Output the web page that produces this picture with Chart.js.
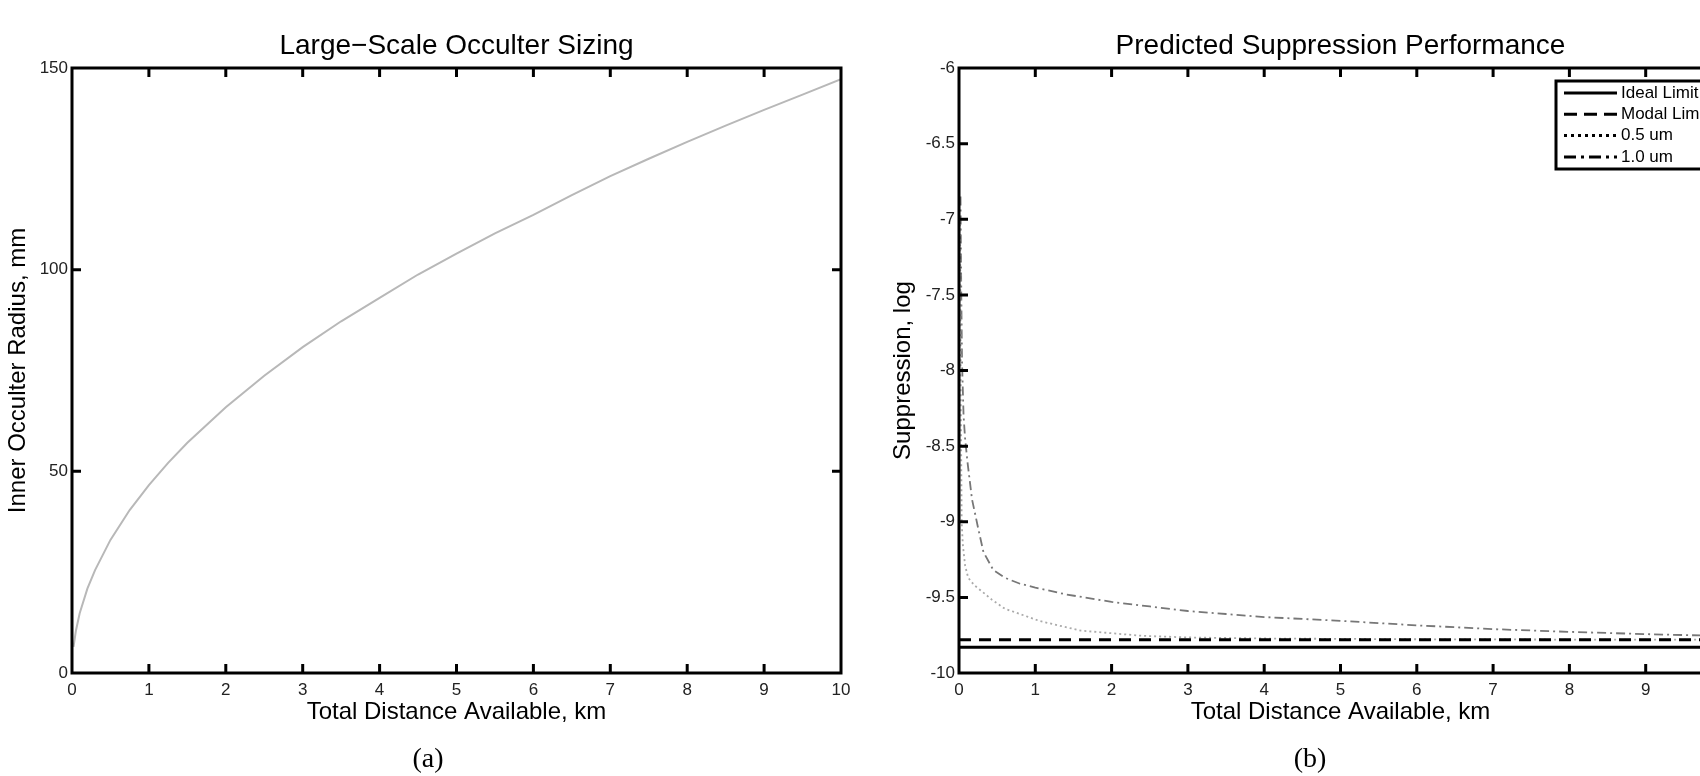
<!DOCTYPE html>
<html>
<head>
<meta charset="utf-8">
<script src="https://cdn.jsdelivr.net/npm/chart.js@4.4.0/dist/chart.umd.min.js"></script>
<style>
  html, body { margin: 0; padding: 0; background: #fff; overflow: hidden; width: 1700px; height: 776px; }
  canvas { position: absolute; top: 0; }
</style>
</head>
<body>
<canvas id="sizing" width="860" height="776" style="left:0"></canvas>
<canvas id="supp" width="880" height="776" style="left:880px"></canvas>
<script>
// tick values
const distTicks = [0, 1, 2, 3, 4, 5, 6, 7, 8, 9, 10];
const radiusTicks = [0, 50, 100, 150];
const suppTicks = [-10, -9.5, -9, -8.5, -8, -7.5, -7, -6.5, -6];

// (a) inner occulter radius vs distance
const sizingDist = [0.02, 0.05, 0.1, 0.2, 0.3, 0.5, 0.75, 1, 1.25, 1.5, 2, 2.5, 3, 3.5, 4, 4.5, 5, 5.5, 6, 6.5, 7, 7.5, 8, 8.5, 9, 9.5, 10];
const sizingRadius = [6.5, 10.4, 14.8, 20.9, 25.5, 33, 40.4, 46.6, 52.1, 57.1, 65.9, 73.7, 80.8, 87.2, 93, 98.8, 104, 109, 113.6, 118.5, 123.2, 127.5, 131.7, 135.7, 139.6, 143.4, 147.2];

// (b) suppression vs distance
const idealLimit = -9.83;
const modalLimit = -9.78;
const dist05 = [0.015, 0.025, 0.035, 0.05, 0.08, 0.12, 0.2, 0.3, 0.43, 0.6, 0.8, 1.05, 1.3, 1.6, 2, 2.4, 3, 4, 6, 8, 10];
const supp05 = [-7.0, -8.3, -9.0, -9.15, -9.29, -9.37, -9.42, -9.46, -9.515, -9.575, -9.61, -9.655, -9.685, -9.72, -9.737, -9.754, -9.765, -9.772, -9.777, -9.779, -9.78];
const dist10 = [0.02, 0.03, 0.04, 0.06, 0.08, 0.11, 0.17, 0.25, 0.32, 0.45, 0.6, 0.8, 1, 1.4, 2, 2.5, 3, 3.5, 4, 5, 6, 7, 8, 9, 10];
const supp10 = [-6.85, -7.5, -7.95, -8.3, -8.45, -8.6, -8.85, -9.04, -9.2, -9.32, -9.37, -9.41, -9.435, -9.48, -9.53, -9.56, -9.59, -9.61, -9.63, -9.655, -9.685, -9.71, -9.728, -9.743, -9.755];

const SANS = '"Liberation Sans", Arial, sans-serif';
const tickFont = { family: SANS, size: 17 };

function pts(xs, ys) {
    return xs.map((x, i) => ({ x: x, y: ys[i] }));
}

// box round the plot, inward ticks on all four sides, texts and legend
const frame = {
    id: 'frame',
    afterDatasetsDraw(chart, args, opts) {
        const { ctx, chartArea: a, scales } = chart;
        ctx.save();
        ctx.strokeStyle = '#000';
        ctx.lineWidth = 3;
        ctx.strokeRect(a.left, a.top, a.right - a.left, a.bottom - a.top);
        ctx.beginPath();
        scales.x.ticks.forEach(t => {
            const px = scales.x.getPixelForValue(t.value);
            if (px < a.left + 3 || px > a.right - 3) return;
            ctx.moveTo(px, a.bottom); ctx.lineTo(px, a.bottom - 9);
            ctx.moveTo(px, a.top); ctx.lineTo(px, a.top + 9);
        });
        scales.y.ticks.forEach(t => {
            const py = scales.y.getPixelForValue(t.value);
            if (py < a.top + 3 || py > a.bottom - 3) return;
            ctx.moveTo(a.left, py); ctx.lineTo(a.left + 9, py);
            ctx.moveTo(a.right, py); ctx.lineTo(a.right - 9, py);
        });
        ctx.stroke();
        ctx.restore();
    },
    afterDraw(chart, args, opts) {
        const { ctx, chartArea: a } = chart;
        const cx = (a.left + a.right) / 2;
        ctx.save();
        ctx.fillStyle = '#000';
        ctx.textAlign = 'center';
        ctx.textBaseline = 'alphabetic';

        ctx.font = '28px ' + SANS;
        ctx.fillText(opts.title, cx, 54);

        ctx.font = '24px ' + SANS;
        ctx.fillText(opts.xLabel, cx, 719);

        ctx.save();
        ctx.textBaseline = 'middle';
        ctx.translate(opts.yLabelX, (a.top + a.bottom) / 2);
        ctx.rotate(-Math.PI / 2);
        ctx.fillText(opts.yLabel, 0, 0);
        ctx.restore();

        ctx.textBaseline = 'middle';
        ctx.font = '28px "Liberation Serif", "Times New Roman", serif';
        ctx.fillText(opts.caption, opts.captionX, 760);

        if (opts.legend) {
            const lg = opts.legend;
            ctx.fillStyle = '#fff';
            ctx.fillRect(lg.left, lg.top, lg.width, lg.height);
            ctx.strokeStyle = '#000';
            ctx.lineWidth = 3;
            ctx.strokeRect(lg.left, lg.top, lg.width, lg.height);
            ctx.font = '17px ' + SANS;
            ctx.textAlign = 'left';
            ctx.fillStyle = '#000';
            chart.data.datasets.forEach((ds, i) => {
                const y = lg.top + 12 + i * 21.3;
                ctx.setLineDash(lg.dashes[i]);
                ctx.beginPath();
                ctx.moveTo(lg.left + 8, y);
                ctx.lineTo(lg.left + 61, y);
                ctx.stroke();
                ctx.fillText(ds.label, lg.left + 65, y);
            });
            ctx.setLineDash([]);
        }
        ctx.restore();
    }
};

function axis(min, max, ticks, extra) {
    return Object.assign({
        type: 'linear',
        min: min,
        max: max,
        afterBuildTicks: s => { s.ticks = ticks.map(v => ({ value: v })); },
        grid: { display: false, drawTicks: false },
        border: { display: false },
        ticks: {
            font: tickFont,
            color: '#222',
            autoSkip: false,
            maxRotation: 0,
            padding: 7,
            callback: v => String(v)
        }
    }, extra);
}

new Chart(document.getElementById('sizing'), {
    type: 'line',
    data: {
        datasets: [{
            label: 'Radius',
            data: pts(sizingDist, sizingRadius),
            borderColor: '#b8b8b8',
            borderWidth: 2,
            pointRadius: 0,
            tension: 0
        }]
    },
    options: {
        responsive: false,
        animation: false,
        layout: { padding: { top: 68, right: 19, left: 0, bottom: 0 } },
        scales: {
            x: axis(0, 10, distTicks, { afterFit: s => { s.height = 103; } }),
            y: axis(0, 150, radiusTicks, {
                afterFit: s => { s.width = 72; },
                ticks: { font: tickFont, color: '#222', padding: 4, callback: v => String(v) }
            })
        },
        plugins: {
            legend: { display: false },
            tooltip: { enabled: false },
            frame: {
                title: 'Large\u2212Scale Occulter Sizing',
                xLabel: 'Total Distance Available, km',
                yLabel: 'Inner Occulter Radius, mm',
                yLabelX: 18,
                caption: '(a)',
                captionX: 428
            }
        }
    },
    plugins: [frame]
});

new Chart(document.getElementById('supp'), {
    type: 'line',
    data: {
        datasets: [{
            label: 'Ideal Limit',
            data: pts([0, 10], [idealLimit, idealLimit]),
            borderColor: '#000',
            borderWidth: 3,
            pointRadius: 0
        }, {
            label: 'Modal Limit',
            data: pts([0, 10], [modalLimit, modalLimit]),
            borderColor: '#000',
            borderWidth: 3,
            borderDash: [12, 8],
            pointRadius: 0
        }, {
            label: '0.5 um',
            data: pts(dist05, supp05),
            borderColor: '#aaa',
            borderWidth: 1.8,
            borderDash: [2, 3],
            pointRadius: 0,
            tension: 0
        }, {
            label: '1.0 um',
            data: pts(dist10, supp10),
            borderColor: '#777',
            borderWidth: 1.8,
            borderDash: [9, 4, 2, 4],
            pointRadius: 0,
            tension: 0
        }]
    },
    options: {
        responsive: false,
        animation: false,
        layout: { padding: { top: 68, right: 38, left: 0, bottom: 0 } },
        scales: {
            x: axis(0, 10, distTicks, { afterFit: s => { s.height = 103; } }),
            y: axis(-10, -6, suppTicks, {
                afterFit: s => { s.width = 79; },
                ticks: { font: tickFont, color: '#222', padding: 4, callback: v => String(v) }
            })
        },
        plugins: {
            legend: { display: false },
            tooltip: { enabled: false },
            frame: {
                title: 'Predicted Suppression Performance',
                xLabel: 'Total Distance Available, km',
                yLabel: 'Suppression, log',
                yLabelX: 23,
                caption: '(b)',
                captionX: 430,
                legend: {
                    left: 676, top: 81, width: 180, height: 88,
                    dashes: [[], [13, 7], [3, 4], [12, 5, 3, 5]]
                }
            }
        }
    },
    plugins: [frame]
});
</script>
</body>
</html>
